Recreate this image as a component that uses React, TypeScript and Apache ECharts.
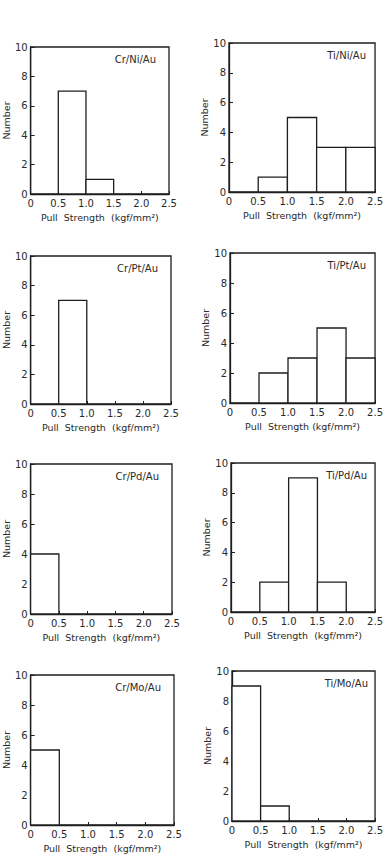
import React, { useEffect, useRef } from "react";
import * as echarts from "echarts";

// Histogram bin edges (kgf/mm²)
const binEdges = [0, 0.5, 1.0, 1.5, 2.0, 2.5];
const yTicks = [0, 2, 4, 6, 8, 10];

// Counts per bin for each metallization
const crNiAu = [0, 7, 1, 0, 0];
const tiNiAu = [0, 1, 5, 3, 3];
const crPtAu = [0, 7, 0, 0, 0];
const tiPtAu = [0, 2, 3, 5, 3];
const crPdAu = [4, 0, 0, 0, 0];
const tiPdAu = [0, 2, 9, 2, 0];
const crMoAu = [5, 0, 0, 0, 0];
const tiMoAu = [9, 1, 0, 0, 0];

const panelNames = [
  "Cr/Ni/Au", "Ti/Ni/Au",
  "Cr/Pt/Au", "Ti/Pt/Au",
  "Cr/Pd/Au", "Ti/Pd/Au",
  "Cr/Mo/Au", "Ti/Mo/Au",
];
const panelCounts = [crNiAu, tiNiAu, crPtAu, tiPtAu, crPdAu, tiPdAu, crMoAu, tiMoAu];

const xAxisTitles = [
  "Pull  Strength  (kgf/mm²)", "Pull  Strength  (kgf/mm²)",
  "Pull  Strength  (kgf/mm²)", "Pull  Strength (kgf/mm²)",
  "Pull  Strength  (kgf/mm²)", "Pull  Strength  (kgf/mm²)",
  "Pull  Strength  (kgf/mm²)", "Pull  Strength  (kgf/mm²)",
];

// Plot-box placement on the page
const boxes = [
  { left: 21, top: 47, width: 148, height: 147 },
  { left: 229, top: 43, width: 150, height: 149 },
  { left: 21, top: 256, width: 150, height: 148 },
  { left: 230, top: 253, width: 149, height: 150 },
  { left: 23, top: 464, width: 149, height: 150 },
  { left: 231, top: 463, width: 149, height: 149 },
  { left: 25, top: 675, width: 149, height: 150 },
  { left: 232, top: 671, width: 149, height: 150 },
];

const INK = "#1e1e1e";
const TEXT = "#2a2a2a";
const FONT = "'DejaVu Sans', sans-serif";

export default function App() {
  const ref = useRef<HTMLDivElement>(null);

  useEffect(() => {
    if (!ref.current) return;
    const chart = echarts.init(ref.current, undefined, { renderer: "svg" });

    const grids: any[] = [];
    const xAxes: any[] = [];
    const yAxes: any[] = [];
    const series: any[] = [];
    const titles: any[] = [];

    panelCounts.forEach((counts, i) => {
      const b = boxes[i];
      grids.push({
        left: b.left,
        top: b.top,
        width: b.width,
        height: b.height,
        show: true,
        borderColor: INK,
        borderWidth: 1.3,
        backgroundColor: "transparent",
      });
      xAxes.push({
        gridIndex: i,
        type: "value",
        min: binEdges[0],
        max: binEdges[binEdges.length - 1],
        interval: 0.5,
        name: xAxisTitles[i],
        nameLocation: "middle",
        nameGap: 18,
        nameTextStyle: { color: TEXT, fontSize: 9.5, fontFamily: FONT },
        axisLine: { show: true, lineStyle: { color: INK, width: 1.3 } },
        axisTick: { show: true, inside: true, length: 3, lineStyle: { color: INK } },
        axisLabel: {
          color: TEXT,
          fontSize: 10,
          fontFamily: FONT,
          margin: 4,
          formatter: (v: number) => (v === 0 ? "0" : v.toFixed(1)),
        },
        splitLine: { show: false },
      });
      yAxes.push({
        gridIndex: i,
        type: "value",
        min: yTicks[0],
        max: yTicks[yTicks.length - 1],
        interval: 2,
        name: "Number",
        nameLocation: "middle",
        nameGap: 13,
        nameTextStyle: { color: TEXT, fontSize: 9.5, fontFamily: FONT },
        axisLine: { show: true, lineStyle: { color: INK, width: 1.3 } },
        axisTick: { show: true, inside: true, length: 4, lineStyle: { color: INK } },
        axisLabel: { color: TEXT, fontSize: 10, fontFamily: FONT, margin: 3 },
        splitLine: { show: false },
      });
      const data = counts
        .map((n, k) => [binEdges[k], binEdges[k + 1], n])
        .filter((d) => d[2] > 0);
      series.push({
        type: "custom",
        xAxisIndex: i,
        yAxisIndex: i,
        encode: { x: [0, 1], y: 2 },
        data,
        renderItem: (_params: any, api: any) => {
          const p0 = api.coord([api.value(0), api.value(2)]);
          const p1 = api.coord([api.value(1), 0]);
          return {
            type: "rect",
            shape: { x: p0[0], y: p0[1], width: p1[0] - p0[0], height: p1[1] - p0[1] },
            style: { fill: "#ffffff", stroke: INK, lineWidth: 1.3 },
          };
        },
      });
      titles.push({
        text: panelNames[i],
        right: 386 - (b.left + b.width) + 13,
        top: b.top + 7,
        padding: 0,
        textStyle: { color: TEXT, fontSize: 10, fontWeight: "normal", fontFamily: FONT },
      });
    });

    chart.setOption({
      animation: false,
      backgroundColor: "#ffffff",
      title: titles,
      grid: grids,
      xAxis: xAxes,
      yAxis: yAxes,
      series,
    });

    return () => chart.dispose();
  }, []);

  return (
    <div
      ref={ref}
      style={{ position: "absolute", left: 0, top: 0, width: 386, height: 868 }}
    />
  );
}
